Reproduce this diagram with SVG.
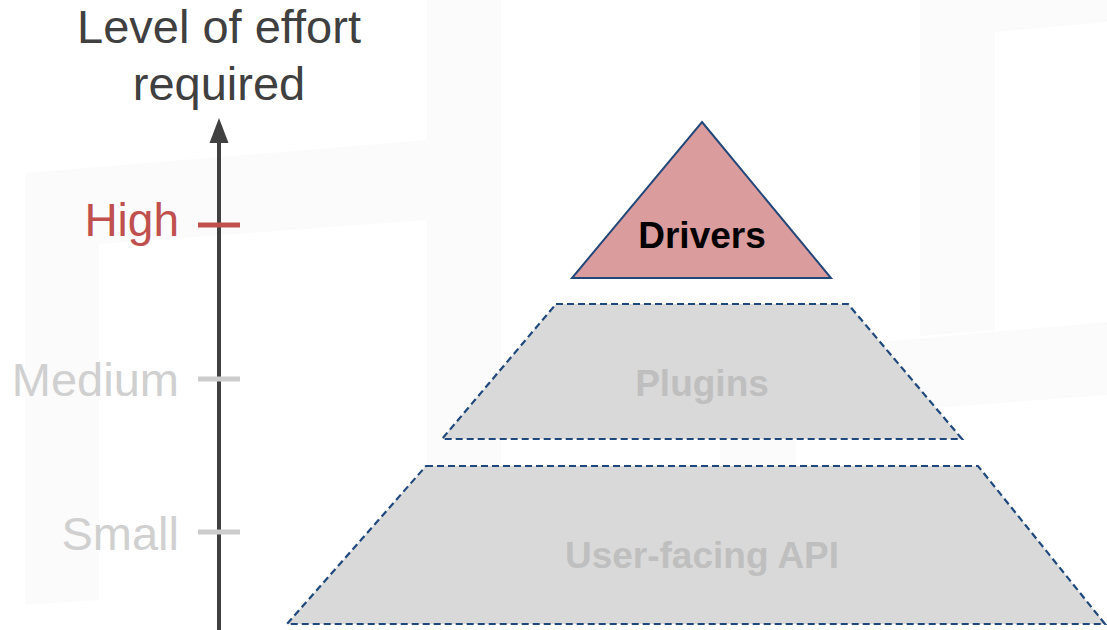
<svg xmlns="http://www.w3.org/2000/svg" width="1107" height="630" viewBox="0 0 1107 630">
  <style>
    .wm { fill: #FBFBFB; stroke: none; }
    .axis-label { font-family: "Liberation Sans", Arial, sans-serif; font-size: 47px; text-anchor: end; }
    .title { font-family: "Liberation Sans", Arial, sans-serif; font-size: 47px; fill: #404040; text-anchor: middle; }
    .layer { fill: #D9D9D9; stroke: #1F497D; stroke-width: 2.2; stroke-dasharray: 7 4; }
    .layer-label { font-family: "Liberation Sans", Arial, sans-serif; font-size: 37px; font-weight: bold; fill: #BFBFBF; text-anchor: middle; }
    .tick { stroke-width: 5; }
  </style>
  <rect width="1107" height="630" fill="#FFFFFF"/>
  <g id="watermark">
    <polygon class="wm" points="25,173 427,140 427,220 99,244 99,600 25,605"/>
    <rect class="wm" x="427" y="0" width="74" height="470"/>
    <polygon class="wm" points="920,0 1107,0 1107,22 995,32 995,330 920,336"/>
    <polygon class="wm" points="880,342 1107,322 1107,395 880,412"/>
    <rect class="wm" x="720" y="440" width="76" height="30"/>
  </g>
  <g id="title">
    <text class="title" x="219" y="43">Level of effort</text>
    <text class="title" x="219" y="100">required</text>
  </g>
  <g id="connectors">
    <line id="axis" x1="219" y1="630" x2="219" y2="143" stroke="#404040" stroke-width="4"/>
    <polygon points="219,118 209.5,143 228.5,143" fill="#404040"/>
  </g>
  <g id="level-high">
    <line class="tick" x1="198" y1="225" x2="240" y2="225" stroke="#C0504D"/>
    <text class="axis-label" x="179" y="236" fill="#C0504D" style="font-size:46px">High</text>
  </g>
  <g id="level-medium">
    <line class="tick" x1="198" y1="379" x2="240" y2="379" stroke="#CCCCCC"/>
    <text class="axis-label" x="179" y="396" fill="#D0D0D0">Medium</text>
  </g>
  <g id="level-small">
    <line class="tick" x1="198" y1="532" x2="240" y2="532" stroke="#CCCCCC"/>
    <text class="axis-label" x="179" y="550" fill="#D0D0D0">Small</text>
  </g>
  <g id="user-facing-api">
    <polygon class="layer" points="426,466 978,466 1105,624 287,624"/>
    <text class="layer-label" x="702" y="568">User-facing API</text>
  </g>
  <g id="plugins">
    <polygon class="layer" points="556,304 848,304 962,439 442,439"/>
    <text class="layer-label" x="702" y="396">Plugins</text>
  </g>
  <g id="drivers">
    <polygon points="702,122 831,278 572,278" fill="#DA9C9C" stroke="#24477A" stroke-width="2"/>
    <text class="layer-label" x="702" y="248" style="fill:#000000">Drivers</text>
  </g>
</svg>
